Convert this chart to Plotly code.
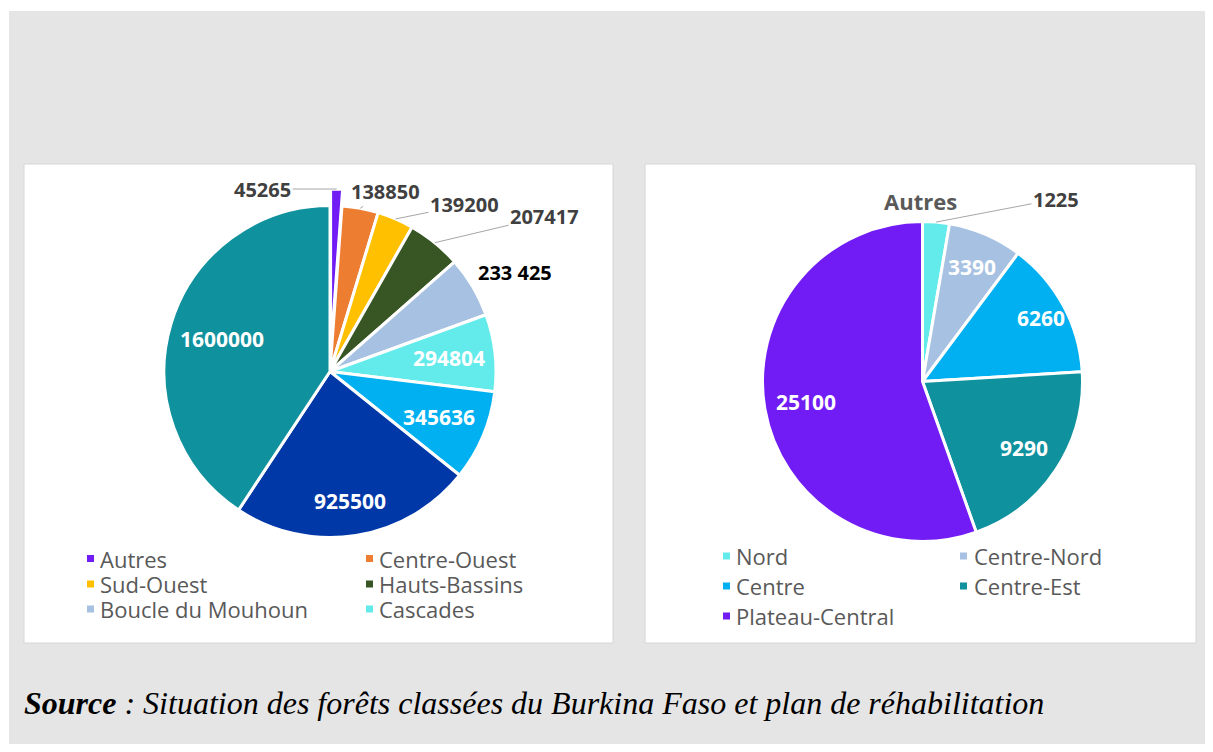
import math
import plotly.graph_objects as go

# la page ajoute une marge de 8 px autour de la figure
OFF = 8
W, H = 1213 - 2 * OFF, 752 - 2 * OFF

# Forêts classées par région (ha)
regions = ['Autres', 'Centre-Ouest', 'Sud-Ouest', 'Hauts-Bassins', 'Boucle du Mouhoun',
           'Cascades', 'Centre-Sud', 'Est', 'Sahel']
superficies = [45265, 138850, 139200, 207417, 233425, 294804, 345636, 925500, 1600000]
couleurs = ['#711BF5', '#ED7D31', '#FFC000', '#375623', '#A6C1E2',
            '#63EBEB', '#00B0F0', '#0038A8', '#10919E']

# Détail de "Autres"
autres_regions = ['Nord', 'Centre-Nord', 'Centre', 'Centre-Est', 'Plateau-Central']
autres_superficies = [1225, 3390, 6260, 9290, 25100]
autres_couleurs = ['#63EBEB', '#A6C1E2', '#00B0F0', '#10919E', '#711BF5']

source = ' : Situation des forêts classées du Burkina Faso et plan de réhabilitation'


def px_x(x):
    return (x - OFF) / W


def px_y(y):
    return 1 - (y - OFF) / H


def slice_point(values, i, cx, cy, r):
    # point au milieu de la part i (sens horaire depuis midi), à la distance r du centre
    total = sum(values)
    mid = (sum(values[:i]) + values[i] / 2) / total * 2 * math.pi
    return px_x(cx + r * math.sin(mid)), px_y(cy - r * math.cos(mid))


fig = go.Figure()

# --- camembert gauche
L_CX, L_CY, L_R, L_PULL = 330, 371.5, 166, 0.1
half = L_R * (1 + L_PULL)
fig.add_trace(go.Pie(
    labels=regions, values=superficies, sort=False, direction='clockwise', rotation=0,
    pull=[L_PULL] + [0] * 8,
    marker=dict(colors=couleurs, line=dict(color='white', width=3)),
    textinfo='none',
    domain=dict(x=[px_x(L_CX - half), px_x(L_CX + half)],
                y=[px_y(L_CY + half), px_y(L_CY - half)]),
    showlegend=False, hoverinfo='label+value',
))

# --- camembert droit
R_CX, R_CY, R_R = 922.5, 381.5, 160
fig.add_trace(go.Pie(
    labels=autres_regions, values=autres_superficies, sort=False, direction='clockwise',
    rotation=0,
    marker=dict(colors=autres_couleurs, line=dict(color='white', width=3)),
    textinfo='none',
    domain=dict(x=[px_x(R_CX - R_R), px_x(R_CX + R_R)],
                y=[px_y(R_CY + R_R), px_y(R_CY - R_R)]),
    showlegend=False, hoverinfo='label+value',
))

shapes = [
    dict(type='rect', xref='paper', yref='paper', x0=px_x(9), x1=px_x(1209),
         y0=0, y1=px_y(11), fillcolor='#E5E5E5', line=dict(width=0), layer='below'),
    dict(type='rect', xref='paper', yref='paper', x0=px_x(24), x1=px_x(613),
         y0=px_y(643), y1=px_y(164), fillcolor='white',
         line=dict(color='#D6D6D6', width=1), layer='below'),
    dict(type='rect', xref='paper', yref='paper', x0=px_x(645), x1=px_x(1196),
         y0=px_y(643), y1=px_y(164), fillcolor='white',
         line=dict(color='#D6D6D6', width=1), layer='below'),
]

annotations = []
label_font = dict(family='Open Sans', size=20, color='#404040', weight='bold')
inside_font = dict(family='Open Sans', size=21, color='white', weight='bold')

# étiquettes extérieures avec traits de rappel (index, décalage x, décalage y en px)
outside = [(0, -74, 0), (1, 25, -17), (2, 69, -14), (3, 110, -26)]
for i, ax, ay in outside:
    r = half if i == 0 else L_R
    x, y = slice_point(superficies, i, L_CX, L_CY, r)
    annotations.append(dict(
        x=x, y=y, xref='paper', yref='paper', ax=ax, ay=ay,
        text=str(superficies[i]), showarrow=True, arrowhead=0, arrowwidth=1,
        arrowcolor='#A6A6A6', standoff=0, font=label_font,
    ))

x, y = slice_point(superficies, 4, L_CX, L_CY, L_R)
annotations.append(dict(
    x=x, y=y, xref='paper', yref='paper', showarrow=False, xshift=42, yshift=14,
    xanchor='center', yanchor='middle',
    text=f'{superficies[4]:,}'.replace(',', ' '),
    font=dict(family='Open Sans', size=20, color='black', weight='bold'),
))

x, y = slice_point(autres_superficies, 0, R_CX, R_CY, R_R)
annotations.append(dict(
    x=x, y=y, xref='paper', yref='paper', ax=120, ay=-23,
    text=str(autres_superficies[0]), showarrow=True, arrowhead=0, arrowwidth=1,
    arrowcolor='#A6A6A6', standoff=0, font=label_font,
))

# étiquettes intérieures (fraction du rayon)
for i, f in zip([5, 6, 7, 8], [0.72, 0.71, 0.79, 0.68]):
    x, y = slice_point(superficies, i, L_CX, L_CY, L_R * f)
    annotations.append(dict(x=x, y=y, xref='paper', yref='paper', showarrow=False,
                            xanchor='center', yanchor='middle',
                            text=str(superficies[i]), font=inside_font))
for i, f in zip([1, 2, 3, 4], [0.78, 0.84, 0.76, 0.74]):
    x, y = slice_point(autres_superficies, i, R_CX, R_CY, R_R * f)
    annotations.append(dict(x=x, y=y, xref='paper', yref='paper', showarrow=False,
                            xanchor='center', yanchor='middle',
                            text=str(autres_superficies[i]), font=inside_font))

# titre du second camembert
annotations.append(dict(
    x=px_x(920), y=px_y(201), xref='paper', yref='paper', showarrow=False,
    xanchor='center', yanchor='middle',
    text='Autres', font=dict(family='Open Sans', size=22, color='#595959', weight='bold'),
))


# légendes (deux colonnes)
def add_legend(names, colors, mx, tx, rows):
    for k, (name, col) in enumerate(zip(names, colors)):
        c, row = k % 2, k // 2
        yc = rows[row]
        shapes.append(dict(type='rect', xref='paper', yref='paper',
                           x0=px_x(mx[c]), x1=px_x(mx[c] + 7),
                           y0=px_y(yc + 3.5), y1=px_y(yc - 3.5),
                           fillcolor=col, line=dict(width=0)))
        annotations.append(dict(
            x=px_x(tx[c]), y=px_y(yc), xref='paper', yref='paper', showarrow=False,
            xanchor='left', yanchor='middle', text=name, height=24, borderpad=0,
            font=dict(family='Open Sans', size=22, color='#595959'),
        ))


add_legend(regions[:6], couleurs[:6], (87, 366), (99, 378), (558.5, 584, 609))
add_legend(autres_regions, autres_couleurs, (723, 960), (735, 973), (556, 586, 616))

# source
annotations.append(dict(
    x=px_x(22), y=px_y(703), xref='paper', yref='paper', showarrow=False,
    xanchor='left', yanchor='middle',
    text='<b><i>Source</i></b><i>' + source + '</i>',
    font=dict(family='Liberation Serif', size=32, color='black'),
))

fig.update_layout(
    width=W, height=H,
    margin=dict(l=0, r=0, t=0, b=0),
    paper_bgcolor='white', plot_bgcolor='white',
    shapes=shapes, annotations=annotations,
)

fig.write_html('out.html')
